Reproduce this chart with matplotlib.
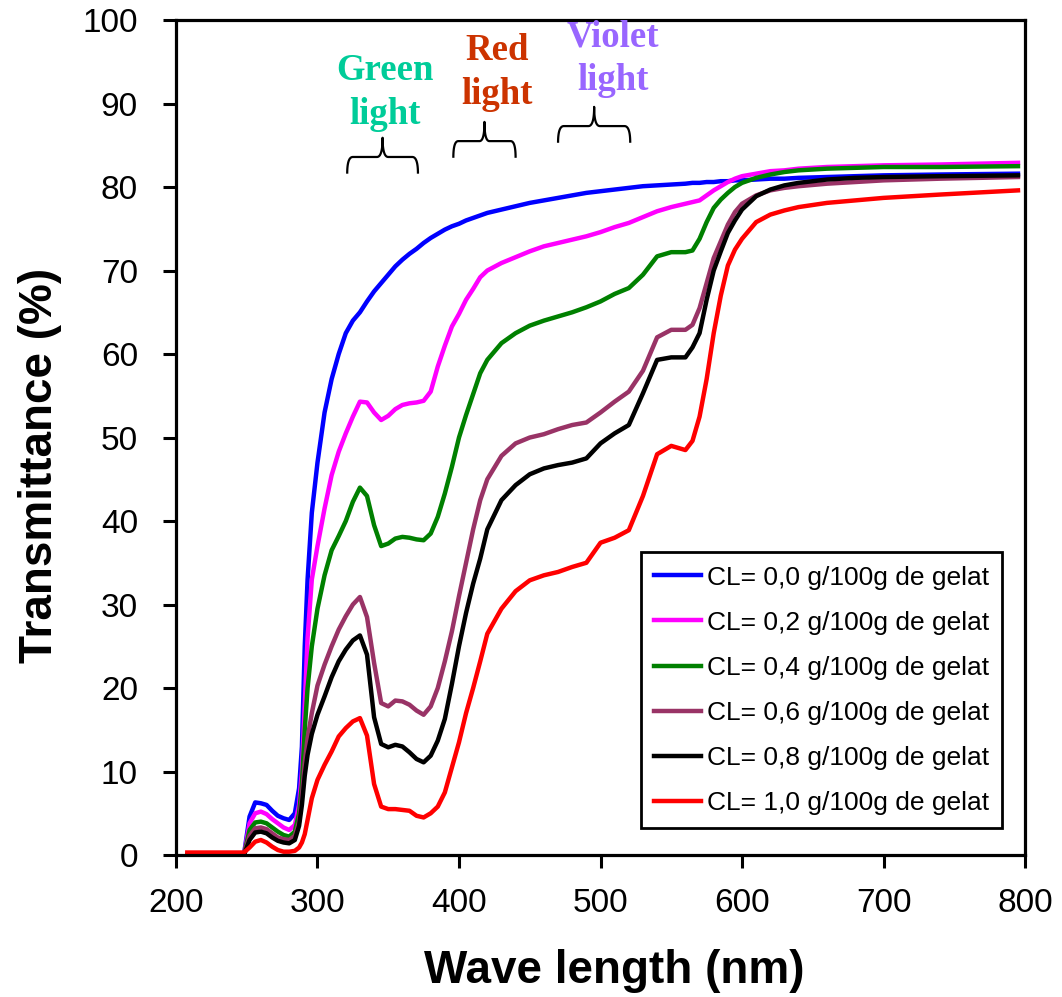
import numpy as np
import matplotlib
matplotlib.use("Agg")
import matplotlib.pyplot as plt

# wavelength grid (nm)
wl = [208, 248, 252, 256, 260, 264, 268, 272, 276, 280, 284, 287,
      289, 291, 293, 296, 300, 305, 310, 315, 320, 325, 330, 335,
      340, 345, 350, 355, 360, 365, 370, 375, 380, 385, 390, 395,
      400, 405, 410, 415, 420, 430, 440, 450, 460, 470, 480, 490,
      500, 510, 520, 530, 540, 550, 560, 565, 570, 575, 580, 585,
      590, 595, 600, 610, 620, 630, 640, 660, 680, 700, 740, 795]

t_00 = [0, 0, 4.6, 6.3, 6.2, 6.0, 5.3, 4.7, 4.4, 4.2, 5.0, 8.0,
        13, 25, 33, 41, 47, 53, 57, 60, 62.5, 64, 65, 66.3,
        67.5, 68.5, 69.5, 70.5, 71.3, 72, 72.6, 73.3, 73.9, 74.4, 74.9, 75.3,
        75.6, 76, 76.3, 76.6, 76.9, 77.3, 77.7, 78.1, 78.4, 78.7, 79, 79.3,
        79.5, 79.7, 79.9, 80.1, 80.2, 80.3, 80.4, 80.5, 80.5, 80.6, 80.6, 80.7,
        80.7, 80.8, 80.8, 80.9, 81, 81, 81.1, 81.2, 81.3, 81.4, 81.5, 81.6]

t_02 = [0, 0, 3.8, 5.0, 5.2, 4.9, 4.3, 3.8, 3.3, 3.0, 3.6, 6.0,
        10, 18, 26, 33, 37, 41.5, 45.5, 48.3, 50.5, 52.5, 54.3, 54.2,
        53, 52.1, 52.6, 53.4, 53.9, 54.1, 54.2, 54.4, 55.5, 58.5, 61, 63.3,
        64.8, 66.5, 67.8, 69.2, 70, 70.9, 71.6, 72.3, 72.9, 73.3, 73.7, 74.1,
        74.6, 75.2, 75.7, 76.4, 77.1, 77.6, 78, 78.2, 78.4, 79, 79.6, 80.1,
        80.6, 81, 81.3, 81.6, 81.9, 82, 82.2, 82.4, 82.5, 82.6, 82.7, 82.9]

t_04 = [0, 0, 3.0, 3.9, 4.0, 3.8, 3.3, 2.8, 2.4, 2.2, 2.8, 5.0,
        8.5, 15, 20, 25, 29.5, 33.5, 36.5, 38.2, 40, 42.3, 44, 43,
        39.5, 37, 37.3, 37.9, 38.1, 38, 37.8, 37.7, 38.5, 40.5, 43.3, 46.5,
        50, 52.7, 55.2, 57.7, 59.3, 61.3, 62.5, 63.4, 64, 64.5, 65, 65.6,
        66.3, 67.2, 67.9, 69.5, 71.7, 72.2, 72.2, 72.4, 73.8, 75.8, 77.5, 78.5,
        79.3, 80, 80.5, 81.1, 81.5, 81.8, 82, 82.2, 82.3, 82.4, 82.4, 82.5]

t_06 = [0, 0, 2.3, 3.2, 3.3, 3.1, 2.6, 2.1, 1.9, 1.8, 2.3, 4.0,
        7, 11, 14, 17, 20.3, 22.8, 25, 27, 28.6, 30, 30.9, 28.5,
        23, 18.2, 17.8, 18.5, 18.4, 18, 17.3, 16.8, 17.8, 20, 23.2, 26.8,
        31, 35, 39, 42.5, 45, 47.8, 49.3, 50, 50.4, 51, 51.5, 51.8,
        53, 54.3, 55.5, 58, 62, 62.9, 62.9, 63.5, 65.5, 68.5, 71.5, 73.5,
        75.5, 77, 78, 79, 79.6, 79.9, 80.1, 80.4, 80.6, 80.8, 81, 81.2]

t_08 = [0, 0, 1.8, 2.7, 2.8, 2.6, 2.1, 1.7, 1.5, 1.4, 1.8, 3.5,
        6, 9.5, 12, 14.5, 16.8, 19, 21.3, 23.2, 24.6, 25.7, 26.3, 24,
        16.5, 13.3, 12.9, 13.2, 13, 12.3, 11.5, 11.1, 11.9, 13.7, 16.3, 20.5,
        25, 29, 32.5, 35.5, 39, 42.5, 44.3, 45.6, 46.3, 46.7, 47, 47.5,
        49.3, 50.5, 51.5, 55.3, 59.3, 59.6, 59.6, 60.8, 62.5, 66.5, 70, 72.3,
        74.5, 76, 77.3, 78.9, 79.7, 80.2, 80.5, 80.9, 81.1, 81.2, 81.3, 81.4]

t_10 = [0.3, 0.3, 0.9, 1.6, 1.8, 1.5, 1.0, 0.6, 0.4, 0.4, 0.5, 0.9,
        1.5, 2.5, 4.2, 6.8, 9, 10.8, 12.4, 14.2, 15.2, 16, 16.4, 14.3,
        8.5, 5.8, 5.5, 5.5, 5.4, 5.3, 4.7, 4.5, 5.0, 5.8, 7.5, 10.5,
        13.5, 17, 20, 23.2, 26.5, 29.5, 31.6, 32.9, 33.5, 33.9, 34.5, 35,
        37.4, 38, 38.9, 43, 48, 49, 48.5, 49.6, 52.5, 57, 62.5, 67,
        70.6, 72.5, 73.8, 75.8, 76.7, 77.2, 77.6, 78.1, 78.4, 78.7, 79.1, 79.6]

series = [t_00, t_02, t_04, t_06, t_08, t_10]
labels = ["CL= 0,0 g/100g de gelat", "CL= 0,2 g/100g de gelat",
          "CL= 0,4 g/100g de gelat", "CL= 0,6 g/100g de gelat",
          "CL= 0,8 g/100g de gelat", "CL= 1,0 g/100g de gelat"]
colors = ["#0000FF", "#FF00FF", "#008000", "#993366", "#000000", "#FF0000"]

# light band annotations: text, colour, brace start/end (nm), brace base y
bands = ["Green\nlight", "Red\nlight", "Violet\nlight"]
band_colors = ["#00CC99", "#CC3300", "#9966FF"]
band_start = [321, 396, 470]
band_end = [371, 440, 521]
band_base = [81.6, 83.5, 85.3]
band_text_x = [347.7, 427, 509]
band_text_y = [92.8, 95.2, 96.8]

plt.rcParams["font.family"] = ["Liberation Sans", "DejaVu Sans"]

fig = plt.figure(figsize=(10.62, 9.97), dpi=100)
ax = fig.add_axes([0.1657, 0.1424, 0.7995, 0.8375])

for y, lab, c in zip(series, labels, colors):
    ax.plot(wl, y, color=c, lw=3.2, label=lab)


def brace(x0, x1, yb, color="black"):
    xm = (x0 + x1) / 2
    h = 2.0
    tip = 2.3
    r = (x1 - x0) * 0.08
    t = np.linspace(0, 1, 20)
    # quadratic bezier pieces
    pts = [((x0, yb), (x0, yb + h), (x0 + r, yb + h)),
           ((xm - r, yb + h), (xm, yb + h), (xm, yb + h + tip)),
           ((xm, yb + h + tip), (xm, yb + h), (xm + r, yb + h)),
           ((x1 - r, yb + h), (x1, yb + h), (x1, yb))]
    xs, ys = [], []
    for p0, p1, p2 in pts:
        bx = (1 - t) ** 2 * p0[0] + 2 * (1 - t) * t * p1[0] + t ** 2 * p2[0]
        by = (1 - t) ** 2 * p0[1] + 2 * (1 - t) * t * p1[1] + t ** 2 * p2[1]
        xs.extend(bx)
        ys.extend(by)
    ax.plot(xs, ys, color=color, lw=1.6, solid_capstyle="butt")


for txt, c, x0, x1, yb, tx, ty in zip(bands, band_colors, band_start, band_end,
                                      band_base, band_text_x, band_text_y):
    brace(x0, x1, yb)
    first, second = txt.split("\n")
    ax.text(tx, ty, first, color=c, fontsize=26.5, fontweight="bold",
            family="Liberation Serif", ha="center", va="baseline")
    ax.text(tx, ty - 5.2, second, color=c, fontsize=26.5, fontweight="bold",
            family="Liberation Serif", ha="center", va="baseline")

ax.set_xlim(200, 800)
ax.set_ylim(0, 100)
ax.set_xticks(range(200, 801, 100))
ax.set_yticks(range(0, 101, 10))

for s in ax.spines.values():
    s.set_linewidth(2.3)
ax.tick_params(axis="both", direction="out", length=9.4, width=2.2, labelsize=24)
ax.tick_params(axis="y", pad=18)
ax.tick_params(axis="x", pad=14)

ax.set_xlabel("Wave length (nm)", fontsize=33, fontweight="bold")
ax.set_ylabel("Transmittance (%)", fontsize=33, fontweight="bold")
ax.xaxis.set_label_coords(0.516, -0.112)
ax.yaxis.set_label_coords(-0.134, 0.467)

leg = ax.legend(loc="lower right", bbox_to_anchor=(0.973, 0.032), borderaxespad=0,
                fontsize=19, fancybox=False, handlelength=1.8, handletextpad=0.2,
                labelspacing=0.8, borderpad=0.5, framealpha=1)
leg.get_frame().set_edgecolor("black")
leg.get_frame().set_linewidth(2)

fig.savefig("out.png", dpi=100)
